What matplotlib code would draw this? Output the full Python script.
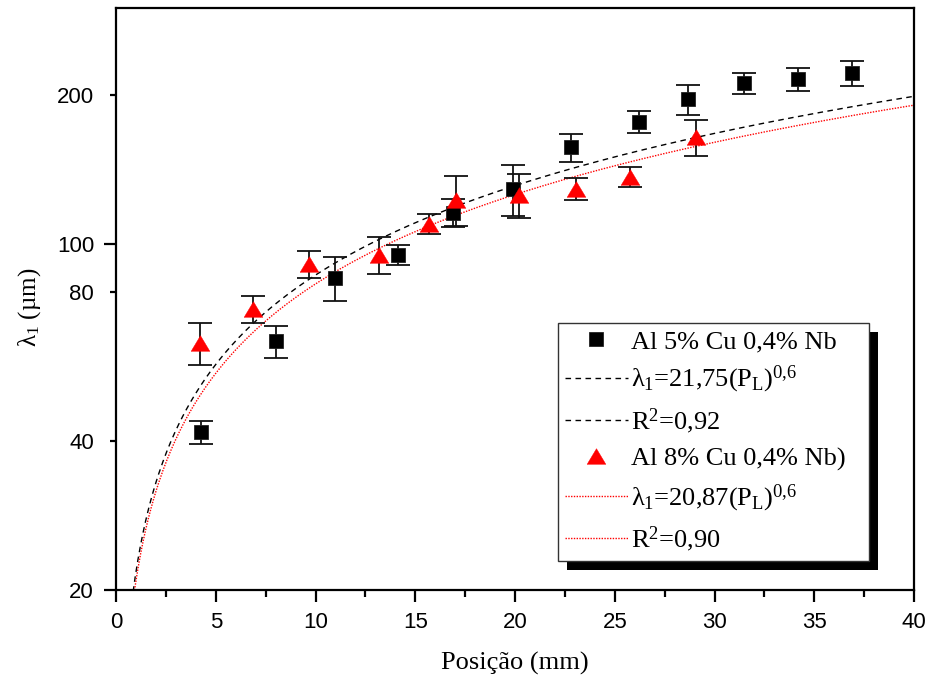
import numpy as np
import matplotlib
matplotlib.use("Agg")
import matplotlib.pyplot as plt
from matplotlib.ticker import FixedLocator, FuncFormatter, MultipleLocator
from matplotlib.patches import Rectangle

# Dendrite arm spacing vs. position
pos_a = [4.27, 8.01, 10.99, 14.12, 16.88, 19.92, 22.82, 26.2, 28.67, 31.5, 34.2, 36.9]
lam_a = [41.7, 63.6, 85.4, 95.1, 115.7, 129.3, 156.9, 176.8, 196.0, 211.2, 215.5, 221.8]
err_a = [2.2, 4.8, 8.8, 4.5, 7.5, 15.3, 10.2, 8.8, 13.8, 10.2, 11.7, 12.8]

pos_b = [4.22, 6.88, 9.69, 13.16, 15.71, 17.05, 20.18, 23.07, 25.75, 29.06]
lam_b = [63.2, 73.9, 91.0, 95.2, 109.8, 123.0, 125.7, 129.4, 136.8, 164.4]
err_b = [6.1, 4.5, 5.7, 8.1, 5.1, 14.0, 12.8, 6.6, 6.1, 13.6]

# Power-law fits: lambda1 = a * P^b
fit_a = (21.75, 0.6)
fit_b = (20.87, 0.6)

label_a = "Al 5% Cu 0,4% Nb"
label_b = "Al 8% Cu 0,4% Nb)"
eq_a = "λ$_1$=21,75(P$_\\mathrm{L}$)$^{0{,}6}$"
eq_b = "λ$_1$=20,87(P$_\\mathrm{L}$)$^{0{,}6}$"
r2_a = "R$^2$=0,92"
r2_b = "R$^2$=0,90"

x_ticks = [0, 5, 10, 15, 20, 25, 30, 35, 40]
y_major = [20, 100]
y_minor = [40, 80, 200]

plt.rcParams['font.family'] = ['Liberation Sans', 'DejaVu Sans']
plt.rcParams['mathtext.fontset'] = 'custom'
plt.rcParams['mathtext.rm'] = 'Liberation Serif'
plt.rcParams['mathtext.it'] = 'Liberation Serif:italic'
plt.rcParams['mathtext.bf'] = 'Liberation Serif:bold'

serif = ['Liberation Serif', 'DejaVu Serif']

fig = plt.figure(figsize=(9.3, 6.82), dpi=100)
ax = fig.add_axes([116 / 930, 1 - 590 / 682, (914 - 116) / 930, (590 - 8) / 682])

xs = np.linspace(0.5, 40, 600)
line_a, = ax.plot(xs, fit_a[0] * xs ** fit_a[1], color='k', lw=1.0,
                  dashes=(4, 3.2), zorder=2)
line_b, = ax.plot(xs, fit_b[0] * xs ** fit_b[1], color='red', lw=1.0,
                  ls=(0, (1, 1)), zorder=2)

ax.errorbar(pos_a, lam_a, yerr=err_a, fmt='none', ecolor='#111111',
            elinewidth=1.3, capsize=8.6, capthick=1.3, zorder=3)
ax.errorbar(pos_b, lam_b, yerr=err_b, fmt='none', ecolor='#111111',
            elinewidth=1.3, capsize=8.6, capthick=1.3, zorder=3)

tri = [(-1.2, -1.0), (1.2, -1.0), (0.0, 1.0), (-1.2, -1.0)]
sq_a, = ax.plot(pos_a, lam_a, ls='none', marker='s', ms=9.4, mfc='k',
                mec='#222222', mew=0.6, zorder=4)
tr_b, = ax.plot(pos_b, lam_b, ls='none', marker=tri, ms=13.5, mfc='red',
                mec='red', mew=0.3, zorder=4)

ax.set_xlim(0, 40)
ax.set_yscale('log')
ax.set_ylim(20, 300)

fmt = FuncFormatter(lambda v, p: f"{v:g}")
ax.xaxis.set_major_locator(FixedLocator(x_ticks))
ax.xaxis.set_minor_locator(MultipleLocator(2.5))
ax.yaxis.set_major_locator(FixedLocator(y_major))
ax.yaxis.set_major_formatter(fmt)
ax.yaxis.set_minor_locator(FixedLocator(y_minor))
ax.yaxis.set_minor_formatter(fmt)

for s in ax.spines.values():
    s.set_linewidth(1.6)

ax.tick_params(axis='x', which='major', direction='out', length=8.5, width=1.6,
               pad=7, labelsize=16)
ax.tick_params(axis='x', which='minor', direction='out', length=5, width=1.6)
ax.tick_params(axis='y', which='major', direction='out', length=8.6, width=1.6,
               pad=7.2, labelsize=16)
ax.tick_params(axis='y', which='minor', direction='out', length=4.3, width=1.6,
               pad=11.5, labelsize=16)

ax.set_xlabel("Posição (mm)", fontsize=19, family=serif)
ax.set_ylabel("λ$_1$ (µm)", fontsize=18, family=serif)
ax.xaxis.set_label_coords(0.5, (590 - 652) / 582)
ax.yaxis.set_label_coords((43 - 116) / 798, (590 - 307) / 582)

handles = [sq_a, line_a, line_a, tr_b, line_b, line_b]
labels = [label_a, eq_a, r2_a, label_b, eq_b, r2_b]
leg = ax.legend(handles, labels, loc='upper left',
                bbox_to_anchor=(558 / 930, 1 - 562 / 682, 311 / 930, 239 / 682),
                bbox_transform=fig.transFigure, mode='expand', borderaxespad=0,
                prop={'family': serif, 'size': 19}, numpoints=1,
                handlelength=2.4, handletextpad=0.1, borderpad=0.25,
                labelspacing=0.42, fancybox=False, framealpha=1,
                edgecolor='#333333')
leg.get_frame().set_linewidth(1.0)
leg.set_zorder(6)

fig.canvas.draw()
bb = leg.get_window_extent()
inv = fig.transFigure.inverted()
(x0, y0) = inv.transform((bb.x0 + 9, bb.y0 - 9))
(x1, y1) = inv.transform((bb.x1 + 9, bb.y1 - 9))
shadow = Rectangle((x0, y0), x1 - x0, y1 - y0, transform=fig.transFigure,
                   facecolor='black', edgecolor='none', zorder=5.5,
                   clip_on=False)
ax.add_patch(shadow)

fig.savefig("out.png", dpi=100)
